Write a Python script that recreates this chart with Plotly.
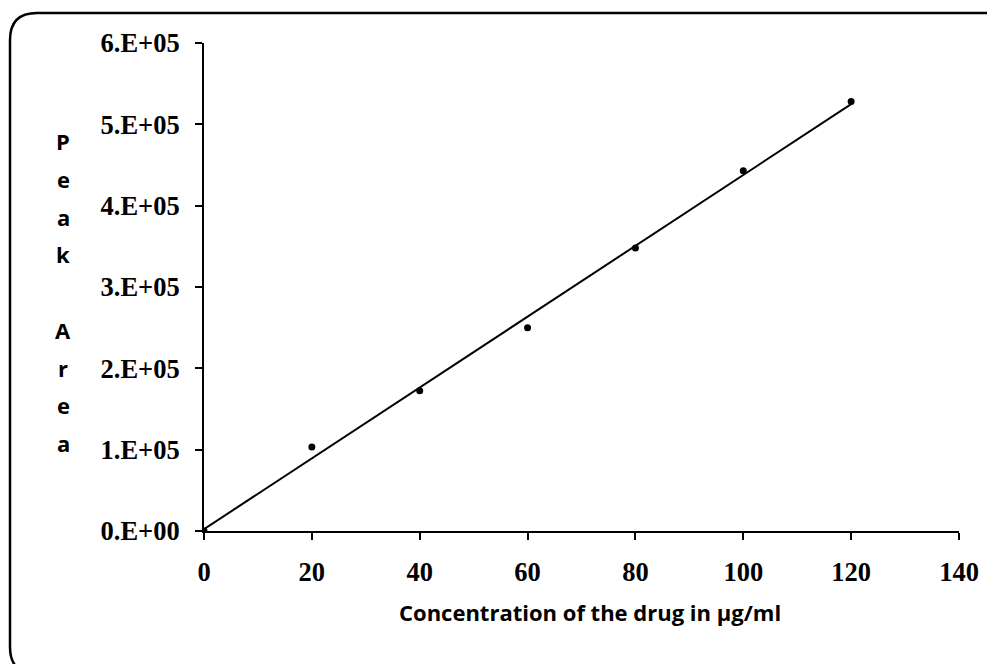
import numpy as np
import plotly.graph_objects as go

# ---- data ----
concentration = [0, 20, 40, 60, 80, 100, 120]
peak_area = [0, 103400, 172400, 250000, 348000, 443000, 528000]
x_ticks = [0, 20, 40, 60, 80, 100, 120, 140]
y_ticks = [0, 100000, 200000, 300000, 400000, 500000, 600000]
y_tick_labels = ["0.E+00", "1.E+05", "2.E+05", "3.E+05", "4.E+05", "5.E+05", "6.E+05"]
y_title_letters = ["P", "e", "a", "k", "", "A", "r", "e", "a"]
x_title = "Concentration of the drug in µg/ml"

# linear trend line (least squares)
slope, intercept = np.polyfit(concentration, peak_area, 1)
trend_x = [min(concentration), max(concentration)]
trend_y = [slope * v + intercept for v in trend_x]

# page offset (body margin) compensation
OFF = 8
SW, SH = 995, 664            # screen size
W, H = SW - OFF, SH - OFF    # figure size
# plot area in screen pixels
X0, X1, Y0, Y1 = 204, 959, 43, 531
ML, MR, MT, MB = X0 - OFF, SW - X1, Y0 - OFF, SH - Y1
PW, PH = X1 - X0, Y1 - Y0

def px(x):
    return (x - X0) / PW

def py(y):
    return (Y1 - y) / PH

fig = go.Figure()
fig.add_trace(go.Scatter(x=trend_x, y=trend_y, mode="lines",
                         line=dict(color="black", width=2), showlegend=False,
                         hoverinfo="skip"))
fig.add_trace(go.Scatter(x=concentration, y=peak_area, mode="markers",
                         marker=dict(color="black", size=7), showlegend=False))

tick_font = dict(family="Liberation Serif", size=26.5, color="black", weight="bold")
fig.update_xaxes(range=[0, 140], tickvals=x_ticks, showline=True, linecolor="black",
                 linewidth=2, ticks="outside", ticklen=7, tickwidth=2, tickcolor="black",
                 showgrid=False, zeroline=False, tickfont=tick_font,
                 ticklabelstandoff=9)
fig.update_yaxes(range=[0, 600000], tickvals=y_ticks, ticktext=y_tick_labels,
                 showline=True, linecolor="black", linewidth=2, ticks="outside",
                 ticklen=7, tickwidth=2, tickcolor="black", showgrid=False,
                 zeroline=False, tickfont=tick_font, ticklabelstandoff=10)

title_font = dict(family="Open Sans", size=22, color="black", weight="bold")
annotations = []
for i, ch in enumerate(y_title_letters):
    if not ch:
        continue
    annotations.append(dict(text=ch, xref="paper", yref="paper",
                            x=px(63), y=py(141 + i * 37.75), showarrow=False,
                            xanchor="center", yanchor="middle", font=title_font))
annotations.append(dict(text=x_title, xref="paper", yref="paper",
                        x=px(590), y=py(612), showarrow=False,
                        xanchor="center", yanchor="middle", font=title_font))

# rounded border (partly beyond canvas, as in the reference)
bx0, by0, bx1, by1, r = 10, 13, 1015, 674, 27
def P(x, y):
    return f"{px(x):.5f},{py(y):.5f}"
path = (f"M {P(bx0 + r, by0)} L {P(bx1 - r, by0)} Q {P(bx1, by0)} {P(bx1, by0 + r)} "
        f"L {P(bx1, by1 - r)} Q {P(bx1, by1)} {P(bx1 - r, by1)} "
        f"L {P(bx0 + r, by1)} Q {P(bx0, by1)} {P(bx0, by1 - r)} "
        f"L {P(bx0, by0 + r)} Q {P(bx0, by0)} {P(bx0 + r, by0)} Z")

fig.update_layout(width=W, height=H, margin=dict(l=ML, r=MR, t=MT, b=MB),
                  paper_bgcolor="white", plot_bgcolor="white",
                  annotations=annotations,
                  shapes=[dict(type="path", path=path, xref="paper", yref="paper",
                               line=dict(color="black", width=2.5), layer="below")])

fig.write_html("out.html")
